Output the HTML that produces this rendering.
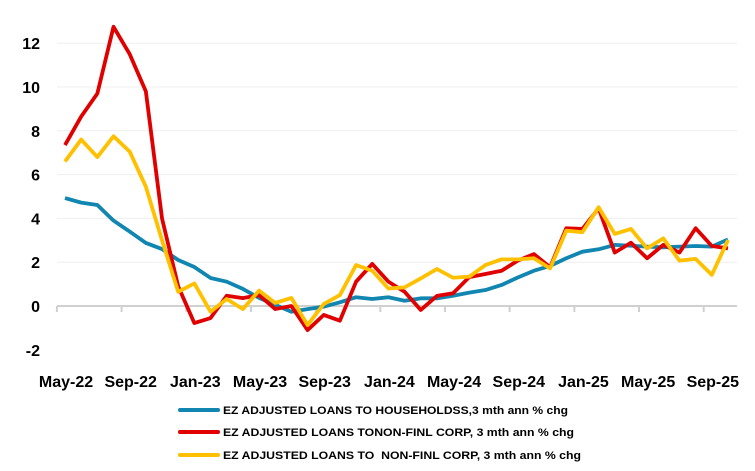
<!DOCTYPE html>
<html><head><meta charset="utf-8"><style>
html,body{margin:0;padding:0;background:#fff;}
svg{display:block;font-family:"Liberation Sans",sans-serif;font-weight:bold;}
#legend text{white-space:pre;}
</style></head><body>
<svg id="chart" width="755" height="471" viewBox="0 0 755 471" xmlns="http://www.w3.org/2000/svg">
<g id="grid"></g>
<g id="yaxis"></g>
<g id="xaxis"></g>
<g id="series"></g>
<g id="legend"></g>
</svg>
<script>
const months = ["May-22","Jun-22","Jul-22","Aug-22","Sep-22","Oct-22","Nov-22","Dec-22","Jan-23","Feb-23","Mar-23","Apr-23","May-23","Jun-23","Jul-23","Aug-23","Sep-23","Oct-23","Nov-23","Dec-23","Jan-24","Feb-24","Mar-24","Apr-24","May-24","Jun-24","Jul-24","Aug-24","Sep-24","Oct-24","Nov-24","Dec-24","Jan-25","Feb-25","Mar-25","Apr-25","May-25","Jun-25","Jul-25","Aug-25","Sep-25","Oct-25"];
const households = [4.93,4.72,4.61,3.9,3.4,2.88,2.6,2.1,1.78,1.28,1.11,0.78,0.37,0.05,-0.26,-0.14,-0.03,0.17,0.4,0.32,0.4,0.24,0.35,0.35,0.47,0.61,0.73,0.96,1.3,1.61,1.83,2.18,2.48,2.59,2.79,2.75,2.71,2.68,2.71,2.74,2.71,3.04];
const nfcRed = [7.35,8.65,9.7,12.75,11.5,9.8,4.0,0.9,-0.78,-0.55,0.47,0.36,0.5,-0.14,0.0,-1.1,-0.41,-0.67,1.11,1.92,1.11,0.65,-0.18,0.46,0.58,1.32,1.46,1.61,2.07,2.37,1.77,3.55,3.52,4.46,2.44,2.89,2.18,2.79,2.44,3.55,2.74,2.63];
const nfcYellow = [6.6,7.6,6.8,7.75,7.05,5.45,3.0,0.65,1.03,-0.26,0.32,-0.14,0.7,0.14,0.37,-0.87,0.09,0.5,1.87,1.61,0.8,0.85,1.26,1.69,1.29,1.34,1.87,2.13,2.13,2.18,1.72,3.44,3.37,4.51,3.29,3.52,2.63,3.09,2.07,2.15,1.42,3.01];
const yTicks = [-2,0,2,4,6,8,10,12];
const xLabelIdx = [0,4,8,12,16,20,24,28,32,36,40];
const legendLabels = ["EZ ADJUSTED LOANS TO HOUSEHOLDSS,3 mth ann % chg","EZ ADJUSTED LOANS TONON-FINL CORP, 3 mth ann % chg","EZ ADJUSTED LOANS TO  NON-FINL CORP, 3 mth ann % chg"];

const NS="http://www.w3.org/2000/svg";
const x0=65, dx=16.17, yZero=306, k=21.9;
const xs=i=>x0+dx*i;
const ys=v=>yZero-v*k;
function mk(tag,parent,attrs){const e=document.createElementNS(NS,tag);for(const a in attrs)e.setAttribute(a,attrs[a]);parent.appendChild(e);return e;}
const grid=document.getElementById('grid'),yax=document.getElementById('yaxis'),xax=document.getElementById('xaxis'),ser=document.getElementById('series'),leg=document.getElementById('legend');
yTicks.forEach(v=>{
  if(v!==0&&v!==-2){const g=mk('line',grid,{x1:57,x2:737,y1:ys(v),y2:ys(v),stroke:'#efefef','stroke-width':1});
  
  }
  const t=mk('text',yax,{x:40,y:ys(v)+6,'text-anchor':'end','font-size':16,fill:'#000'});
  t.textContent=v;
  
  
});
const ax=mk('line',xax,{x1:57,x2:737,y1:yZero,y2:yZero,stroke:'#d0d0d0','stroke-width':2});


for(let i=0;i<=months.length;i+=4){
  const tk=mk('line',xax,{x1:xs(i)-dx/2,x2:xs(i)-dx/2,y1:yZero,y2:yZero+6,stroke:'#d0d0d0','stroke-width':2});
  
  
}
xLabelIdx.forEach(i=>{
  const t=mk('text',xax,{x:xs(i)+1,y:387,'text-anchor':'middle','font-size':16,fill:'#000'});
  t.textContent=months[i];
  
  
});
const seriesList=[[households,'#1086b0','households-line'],[nfcRed,'#e00000','nfc-red-line'],[nfcYellow,'#ffc000','nfc-yellow-line']];
seriesList.forEach(([d,c,n])=>{
  const p=mk('polyline',ser,{points:d.map((v,i)=>xs(i)+','+ys(v)).join(' '),fill:'none',stroke:c,'stroke-width':3.8,'stroke-linejoin':'round'});
  
  
});
const legY=[410,432,455], legW=[345,351,358];
seriesList.forEach(([d,c,n],j)=>{
  const l=mk('line',leg,{x1:180,x2:218,y1:legY[j],y2:legY[j],stroke:c,'stroke-width':4,'stroke-linecap':'round'});
  
  
  const t=mk('text',leg,{x:223,y:legY[j]+4,'font-size':11,fill:'#000',textLength:legW[j],lengthAdjust:'spacingAndGlyphs'});
  t.textContent=legendLabels[j];
  
  
});
</script>
</body></html>
